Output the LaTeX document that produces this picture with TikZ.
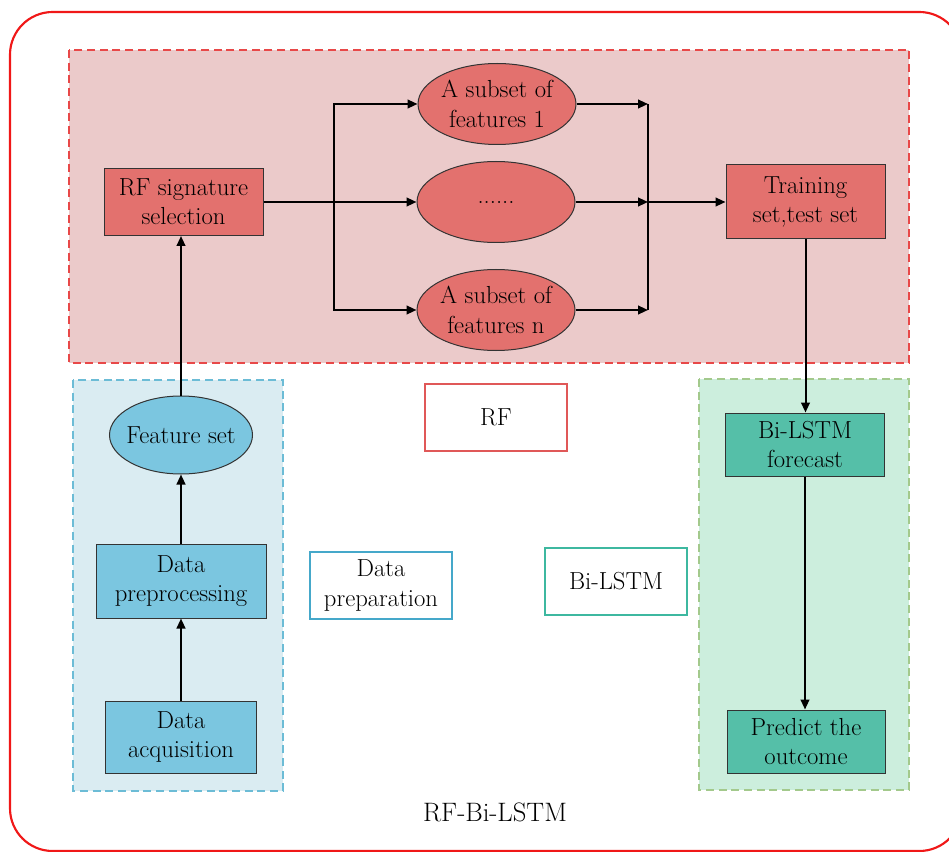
\documentclass[tikz,border=0pt]{standalone}
\usepackage{fontspec}
\setmainfont{Latin Modern Roman}
\usetikzlibrary{arrows.meta,shapes.geometric}
\definecolor{frameRed}{HTML}{F01818}
\definecolor{pinkBg}{HTML}{EBCACA}
\definecolor{pinkLine}{HTML}{E84848}
\definecolor{redNode}{HTML}{E3716E}
\definecolor{blueBg}{HTML}{DAECF2}
\definecolor{blueLine}{HTML}{6CBCD6}
\definecolor{blueNode}{HTML}{7BC6E0}
\definecolor{greenBg}{HTML}{CCEEDD}
\definecolor{greenLine}{HTML}{A3C98C}
\definecolor{tealNode}{HTML}{55BFA8}
\definecolor{edgeDark}{HTML}{333333}
\definecolor{prepLine}{HTML}{45A8CA}
\definecolor{rfLine}{HTML}{E05858}
\definecolor{lstmLine}{HTML}{3DB8A0}
\tikzset{
  txt/.style={font=\fontsize{18.5}{22}\selectfont, align=center, text=black, inner sep=0pt},
  rbox/.style={txt, draw=edgeDark, line width=0.75pt, rectangle},
  rednode/.style={rbox, fill=redNode},
  ellnode/.style={txt, ellipse, draw=edgeDark, line width=0.75pt, inner xsep=-8pt, inner ysep=0pt},
  redell/.style={ellnode, fill=redNode, minimum width=118.5pt, minimum height=60.75pt},
  bluenode/.style={rbox, fill=blueNode},
  tealnode/.style={rbox, fill=tealNode},
  legendbox/.style={txt, rectangle, fill=white, line width=1.5pt, minimum width=106.5pt, minimum height=50.25pt},
  region/.style={dashed, dash pattern=on 6pt off 3.5pt, line width=0.9pt},
  arr/.style={-{Triangle[length=7.5pt,width=6.5pt]}, line width=1.5pt, black},
  ln/.style={line width=1.5pt, black}
}
\begin{document}
\begin{tikzpicture}[x=0.75pt,y=-0.75pt]
\useasboundingbox (0,0) rectangle (949,852);
\begin{scope}
\clip (0,0) rectangle (949,852);
\draw[frameRed, line width=1.6pt, rounded corners=32pt] (10,12) rectangle (962,851);
\end{scope}
% regions
\draw[region, draw=pinkLine, fill=pinkBg] (69,50) rectangle (909,363);
\draw[region, draw=blueLine, fill=blueBg] (73,380) rectangle (283,791);
\draw[region, draw=greenLine, fill=greenBg] (699,379) rectangle (909,790);
% RF part
\node[rednode, minimum width=119.25pt, minimum height=50.25pt] (rfsel) at (183.5,202) {RF signature\\selection};
\node[redell] (e1) at (497,104) {A subset of\\features 1};
\node[redell] (e2) at (496,202) {......};
\node[redell] (e3) at (496,310) {A subset of\\features n};
\node[rednode, minimum width=119.25pt, minimum height=55.5pt] (train) at (805.5,202) {Training\\set,test set};
% data preparation
\node[ellnode, fill=blueNode, minimum width=107.25pt, minimum height=58.5pt] (feat) at (181,435) {Feature set};
\node[bluenode, minimum width=127.5pt, minimum height=55.5pt] (prep) at (181,581) {Data\\preprocessing};
\node[bluenode, minimum width=113.25pt, minimum height=54pt] (acq) at (181,737) {Data\\acquisition};
% Bi-LSTM part
\node[tealnode, minimum width=119.25pt, minimum height=47.25pt] (fore) at (805,444.5) {Bi-LSTM\\forecast};
\node[tealnode, minimum width=118.5pt, minimum height=47.25pt] (pred) at (806,741.5) {Predict the\\outcome};
% legend boxes
\node[legendbox, draw=rfLine] (lrf) at (496,417.5) {RF};
\node[legendbox, draw=prepLine] (lprep) at (381,585.5) {Data\\preparation};
\node[legendbox, draw=lstmLine] (llstm) at (616,581.5) {Bi-LSTM};
\node[txt, font=\fontsize{20}{24}\selectfont] (title) at (495,812) {RF-Bi-LSTM};
% connectors
\coordinate (split) at (334,202);
\coordinate (merge) at (648,202);
\draw[arr] (acq.north) -- (prep.south);
\draw[arr] (prep.north) -- (feat.south);
\draw[arr] (feat.north) -- (feat.north |- rfsel.south);
\draw[ln] (rfsel.east) -- (split);
\draw[arr] (split) |- (e1.west);
\draw[arr] (split) -- (e2.west);
\draw[arr] (split) |- (e3.west);
\draw[ln] (merge |- e1.east) -- (merge |- e3.east);
\draw[arr] (e1.east) -- (e1.east -| merge);
\draw[arr] (e2.east) -- (merge);
\draw[arr] (e3.east) -- (e3.east -| merge);
\draw[arr] (merge) -- (train.west);
\draw[arr] (train.south) -- (train.south |- fore.north);
\draw[arr] (fore.south) -- (fore.south |- pred.north);
\end{tikzpicture}
\end{document}
